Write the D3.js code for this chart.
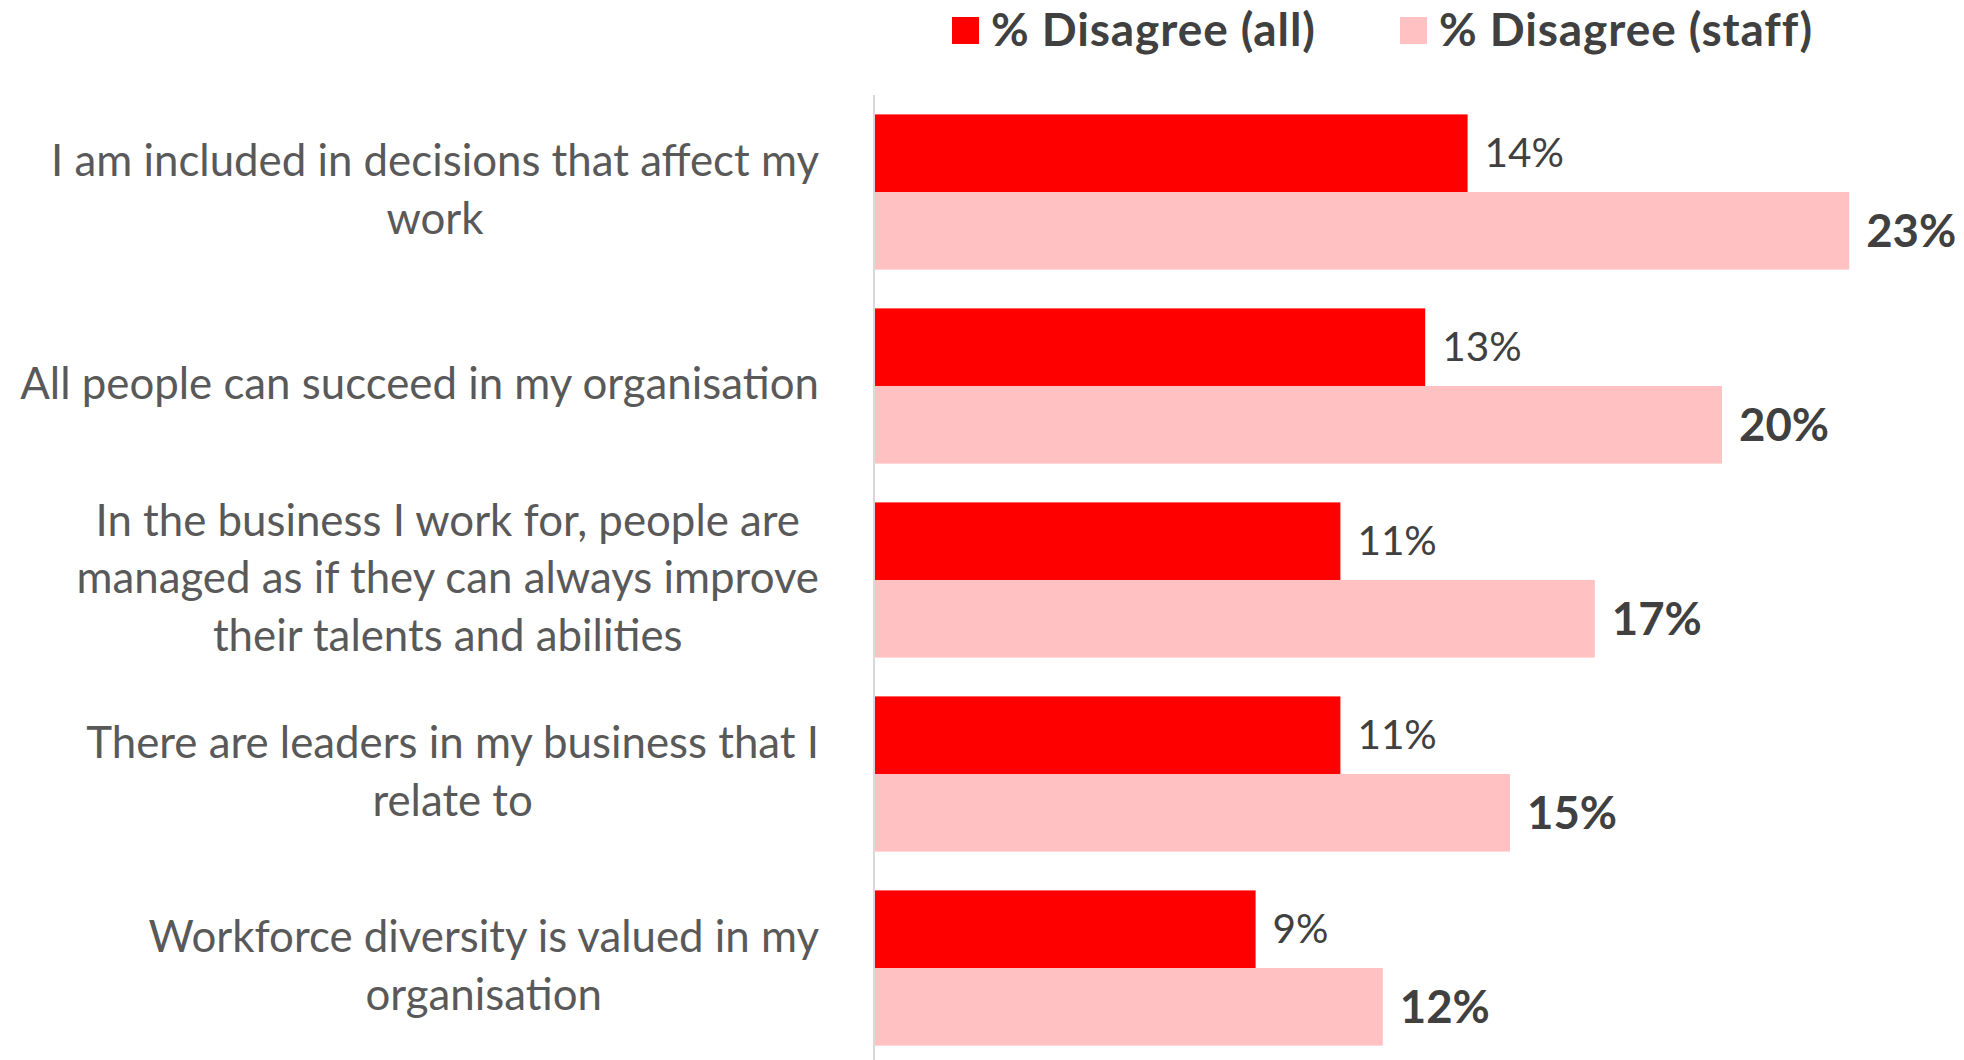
<!DOCTYPE html>
<html>
<head>
<meta charset="utf-8">
<script src="https://cdn.jsdelivr.net/npm/d3@7"></script>
<style>
  html, body { margin: 0; padding: 0; background: #ffffff; }
  svg { display: block; }
</style>
</head>
<body>
<svg id="chart" width="1964" height="1060"></svg>
<script>
// Statements, each split into the lines shown on the axis
const statements = [
  ["I am included in decisions that affect my", "work"],
  ["All people can succeed in my organisation"],
  ["In the business I work for, people are", "managed as if they can always improve", "their talents and abilities"],
  ["There are leaders in my business that I", "relate to"],
  ["Workforce diversity is valued in my", "organisation"]
];
const disagreeAll   = [14, 13, 11, 11, 9];
const disagreeStaff = [23, 20, 17, 15, 12];
const seriesNames = ["% Disagree (all)", "% Disagree (staff)"];
const seriesColors = ["#ff0000", "#ffc1c1"];

const svg = d3.select("#chart");
const FONT = "Lato, 'Open Sans', sans-serif";
const textColor = "#595959";
const valueColor = "#404040";

const axisX = 874;
const x = d3.scaleLinear().domain([0, 23]).range([axisX, axisX + 23 * 42.4]);
const y = d3.scaleBand().domain(d3.range(statements.length)).range([95, 1065])
  .paddingInner(0.2).paddingOuter(0.1);
const sub = d3.scaleBand().domain([0, 1]).range([0, y.bandwidth()]);

// vertical category axis line
svg.append("line")
  .attr("x1", axisX).attr("x2", axisX)
  .attr("y1", 95).attr("y2", 1060)
  .attr("stroke", "#d9d9d9").attr("stroke-width", 2);

const groups = svg.selectAll("g.cat").data(statements).join("g")
  .attr("class", "cat")
  .attr("transform", (d, i) => `translate(0,${y(i)})`);

const series = [disagreeAll, disagreeStaff];
series.forEach((vals, s) => {
  groups.append("rect")
    .attr("x", axisX + 1)
    .attr("y", sub(s))
    .attr("width", (d, i) => x(vals[i]) - axisX - 1)
    .attr("height", sub.bandwidth())
    .attr("fill", seriesColors[s]);

  groups.append("text")
    .attr("x", (d, i) => x(vals[i]) + 17)
    .attr("y", sub(s) + sub.bandwidth() / 2)
    .attr("dy", "0.35em")
    .attr("font-family", FONT)
    .attr("font-size", s === 0 ? 40.5 : 45.5)
    .attr("font-weight", s === 0 ? 400 : 700)
    .attr("fill", valueColor)
    .text((d, i) => vals[i] + "%");
});

// category labels: lines centred on each other, block right-aligned near the axis
const labelRight = 819;
const lineGap = 57.6;
groups.each(function(lines, i) {
  const g = d3.select(this);
  const t = g.append("text")
    .attr("font-family", FONT)
    .attr("font-size", 43.8)
    .attr("fill", textColor)
    .attr("text-anchor", "middle");
  const cy = y.bandwidth() / 2;
  const spans = t.selectAll("tspan").data(lines).join("tspan")
    .attr("y", (d, k) => cy + (k - (lines.length - 1) / 2) * lineGap)
    .attr("dy", "0.3em")
    .text(d => d);
  let maxW = 0;
  spans.each(function() { maxW = Math.max(maxW, this.getComputedTextLength()); });
  spans.attr("x", labelRight - maxW / 2);
});

// legend
const legendItems = [{x: 952}, {x: 1400}];
const legend = svg.append("g");
legendItems.forEach((it, s) => {
  legend.append("rect")
    .attr("x", it.x).attr("y", 17)
    .attr("width", 27).attr("height", 27)
    .attr("fill", seriesColors[s]);
  legend.append("text")
    .attr("x", it.x + 39).attr("y", 46)
    .attr("font-family", FONT)
    .attr("font-size", 46)
    .attr("font-weight", 700)
    .attr("letter-spacing", 0.9)
    .attr("fill", valueColor)
    .text(seriesNames[s]);
});
</script>
</body>
</html>
